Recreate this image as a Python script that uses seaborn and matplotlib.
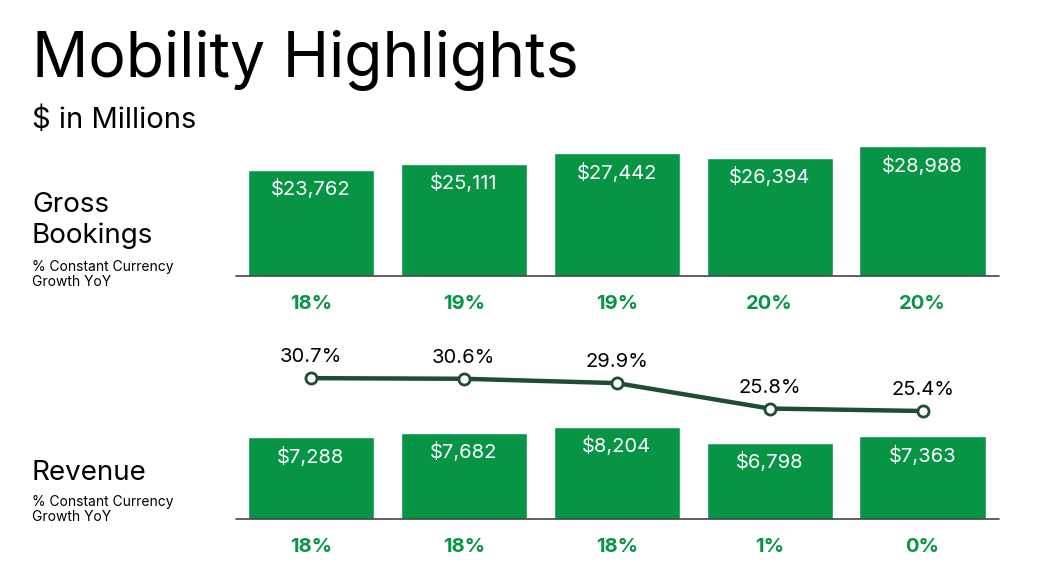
import pandas as pd
import matplotlib
matplotlib.use("Agg")
import matplotlib.pyplot as plt
import seaborn as sns

# Data
periods = ["P1", "P2", "P3", "P4", "P5"]
gross_bookings = [23762, 25111, 27442, 26394, 28988]
gb_growth = ["18%", "19%", "19%", "20%", "20%"]
revenue = [7288, 7682, 8204, 6798, 7363]
rev_growth = ["18%", "18%", "18%", "1%", "0%"]
take_rate = [30.7, 30.6, 29.9, 25.8, 25.4]

GREEN = "#079545"
DARK = "#1f4d33"
W, H = 1048, 572

sns.set_theme(style="white")
plt.rcParams["font.family"] = ["Inter", "DejaVu Sans"]
plt.rcParams["text.color"] = "black"

fig = plt.figure(figsize=(W / 100, H / 100), dpi=100)


def px_axes(left, top, right, bottom):
    return fig.add_axes([left / W, 1 - bottom / H, (right - left) / W, (bottom - top) / H])


def bar_panel(ax, values, growth, px_per_unit):
    df = pd.DataFrame({"period": periods, "value": values})
    sns.barplot(data=df, x="period", y="value", color=GREEN, saturation=1,
                width=0.825, ax=ax)
    ax.set_xlim(-0.49, 4.5)
    h_px = ax.get_position().height * H
    ax.set_ylim(0, h_px * px_per_unit)
    for i, v in enumerate(values):
        ax.annotate(f"${v:,}", (i, v), xytext=(0, -14), textcoords="offset points",
                    ha="center", va="center", color="white", fontsize=14.5)
        ax.annotate(growth[i], (i, 0), xytext=(0, -20), textcoords="offset points",
                    ha="center", va="center", color=GREEN, fontsize=14.5,
                    fontweight="bold", annotation_clip=False)
    ax.set_axis_off()
    ax.axhline(0, color="#444444", lw=1.2, clip_on=False)


# Gross bookings panel
ax1 = px_axes(236, 136, 999, 276)
bar_panel(ax1, gross_bookings, gb_growth, 223.5)

# Revenue panel
ax2 = px_axes(236, 419, 999, 519)
bar_panel(ax2, revenue, rev_growth, 89.0)

# Take rate line
ax3 = px_axes(236, 350, 999, 420)
sns.lineplot(x=list(range(5)), y=take_rate, color=DARK, lw=3.2, marker="o",
             markersize=8, markerfacecolor="white", markeredgecolor=DARK,
             markeredgewidth=2, ax=ax3)
ax3.set_xlim(-0.49, 4.5)
ax3.set_ylim(23.95, 35.24)
for i, v in enumerate(take_rate):
    ax3.annotate(f"{v}%", (i, v), xytext=(0, 15), textcoords="offset points",
                 ha="center", va="center", color="black", fontsize=14.5)
ax3.set_axis_off()
ax3.patch.set_alpha(0)

# Titles and left labels
fig.text(32 / W, 1 - 76 / H, "Mobility Highlights", fontsize=45, va="baseline", ha="left")
fig.text(32 / W, 1 - 128 / H, "$ in Millions", fontsize=21, va="baseline", ha="left")
fig.text(32 / W, 1 - 212 / H, "Gross", fontsize=20, va="baseline", ha="left")
fig.text(32 / W, 1 - 243 / H, "Bookings", fontsize=20, va="baseline", ha="left")
fig.text(32 / W, 1 - 271 / H, "% Constant Currency", fontsize=10, va="baseline", ha="left")
fig.text(32 / W, 1 - 286 / H, "Growth YoY", fontsize=10, va="baseline", ha="left")
fig.text(32 / W, 1 - 480 / H, "Revenue", fontsize=20, va="baseline", ha="left")
fig.text(32 / W, 1 - 506 / H, "% Constant Currency", fontsize=10, va="baseline", ha="left")
fig.text(32 / W, 1 - 521 / H, "Growth YoY", fontsize=10, va="baseline", ha="left")

fig.savefig("out.png", dpi=100, facecolor="white")
